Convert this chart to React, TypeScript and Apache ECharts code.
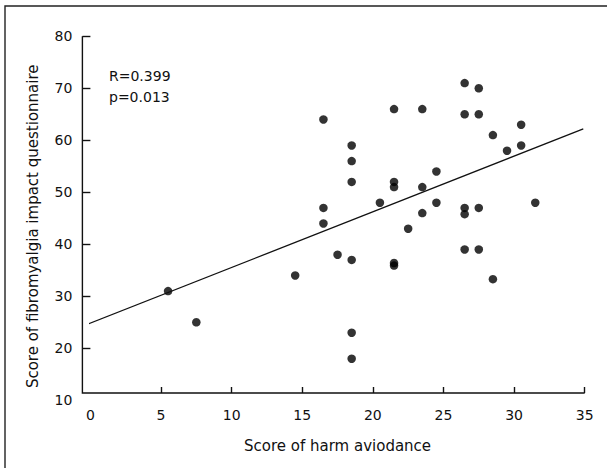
import React, { useEffect, useRef } from "react";
import * as echarts from "echarts";

const xValues = [5.5, 7.5, 14.5, 16.5, 16.5, 16.5, 17.5, 18.5, 18.5, 18.5, 18.5, 18.5, 18.5, 20.5, 21.5, 21.5, 21.5, 21.5, 21.5, 22.5, 23.5, 23.5, 23.5, 24.5, 24.5, 26.5, 26.5, 26.5, 26.5, 26.5, 27.5, 27.5, 27.5, 27.5, 28.5, 28.5, 29.5, 30.5, 30.5, 31.5];
const yValues = [31, 25, 34, 64, 47, 44, 38, 59, 56, 52, 37, 23, 18, 48, 66, 52, 51, 36.4, 35.9, 43, 66, 51, 46, 54, 48, 71, 65, 47, 45.8, 39, 70, 65, 47, 39, 61, 33.3, 58, 63, 59, 48];
const fitX = [-0.6, 34.9];
const fitY = [24.2, 62.2];
const xTicks = [5, 10, 15, 20, 25, 30, 35];
const yTicks = [20, 30, 40, 50, 60, 70, 80];
const statLines = ["R=0.399", "p=0.013"];
const xTitle = "Score of harm aviodance";
const yTitle = "Score of fibromyalgia impact questionnaire";

const FONT = "DejaVu Sans";

export default function App() {
  const ref = useRef<HTMLDivElement>(null);
  useEffect(() => {
    if (!ref.current) return;
    const chart = echarts.init(ref.current, null, { renderer: "svg" });
    const W = 607;
    const gl = 90.4, gr = 584.7, gt = 36.3, gb = 400.3;
    const axX = 82.4, axY = 393;
    chart.setOption({
      animation: false,
      backgroundColor: "#ffffff",
      grid: { left: gl, right: W - gr, top: gt, bottom: 468 - gb, containLabel: false },
      xAxis: {
        type: "value",
        min: 0,
        max: 35,
        interval: 5,
        offset: axY - gb,
        name: xTitle,
        nameLocation: "middle",
        nameGap: 45,
        nameTextStyle: { fontFamily: FONT, fontSize: 15, color: "#111" },
        axisLine: { show: false },
        axisTick: { show: true, inside: true, length: 6, customValues: xTicks, lineStyle: { color: "#111", width: 1.4 } },
        axisLabel: { fontFamily: FONT, fontSize: 14, color: "#111", margin: 15 },
        splitLine: { show: false },
      },
      yAxis: {
        type: "value",
        min: 10,
        max: 80,
        interval: 10,
        offset: gl - axX,
        name: yTitle,
        nameLocation: "middle",
        nameGap: 42,
        nameTextStyle: { fontFamily: FONT, fontSize: 15, color: "#111", padding: [0, 16, 0, 0] },
        axisLine: { show: false },
        axisTick: { show: true, inside: false, length: gl - axX, customValues: yTicks, lineStyle: { color: "#111", width: 1.4 } },
        axisLabel: { fontFamily: FONT, fontSize: 14, color: "#111", margin: 10 },
        splitLine: { show: false },
      },
      graphic: [
        {
          type: "polyline",
          shape: { points: [[axX, gt], [axX, axY], [gr, axY]] },
          style: { stroke: "#111", lineWidth: 1.4, fill: null },
          z: 10,
        },
        {
          type: "polyline",
          shape: { points: [[5, 470], [5, 6], [607, 6]] },
          style: { stroke: "#222", lineWidth: 1.4, fill: null },
        },
        {
          type: "text",
          x: 109,
          y: 76,
          style: { text: statLines[0], fontFamily: FONT, fontSize: 14, fill: "#111", textVerticalAlign: "middle", verticalAlign: "middle" },
        },
        {
          type: "text",
          x: 109,
          y: 97,
          style: { text: statLines[1], fontFamily: FONT, fontSize: 14, fill: "#111", textVerticalAlign: "middle", verticalAlign: "middle" },
        },
      ],
      series: [
        {
          type: "line",
          data: fitX.map((x, i) => [x, fitY[i]]),
          showSymbol: false,
          clip: false,
          lineStyle: { color: "#111", width: 1.3 },
          silent: true,
        },
        {
          type: "scatter",
          data: xValues.map((x, i) => [x, yValues[i]]),
          symbol: "circle",
          symbolSize: 8.5,
          itemStyle: { color: "#000" },
        },
      ],
    });
    return () => chart.dispose();
  }, []);
  return <div ref={ref} style={{ position: "fixed", left: 0, top: 0, width: 607, height: 468, background: "#fff" }} />;
}
